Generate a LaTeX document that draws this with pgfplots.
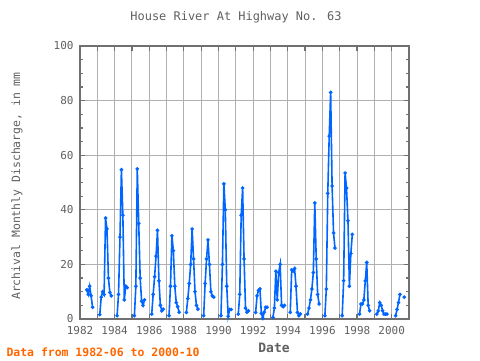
\documentclass[border=0pt]{standalone}
\usepackage{pgfplots}
\pgfplotsset{compat=1.18}
\usepackage{pgfplotstable}
\usepackage{fontspec}
\setmainfont{DejaVu Sans Mono}
\definecolor{txt}{HTML}{606060}
\definecolor{frm}{HTML}{707070}
\definecolor{grd}{HTML}{B0B0B0}
\definecolor{ln}{HTML}{0066FF}
\definecolor{org}{HTML}{FF6600}

\pgfplotstableread{
yr mo v
1982 6 10.7
1982 7 9
1982 8 12
1982 9 8.5
1982 10 4.3
1982 12 nan
1983 3 1.6
1983 4 8
1983 5 10
1983 6 9
1983 7 37
1983 8 33
1983 9 15
1983 10 9.7
1983 11 8.5
1983 12 nan
1984 3 1.2
1984 4 9
1984 5 30
1984 6 54.7
1984 7 38
1984 8 7
1984 9 12
1984 10 11.5
1984 12 nan
1985 3 1.2
1985 4 12
1985 5 55
1985 6 35
1985 7 15
1985 8 6.5
1985 9 5
1985 10 7
1985 12 nan
1986 3 1.8
1986 4 9
1986 5 15.5
1986 6 23
1986 7 32.5
1986 8 14
1986 9 5
1986 10 3
1986 11 3.6
1986 12 nan
1987 3 1.2
1987 4 12
1987 5 30.5
1987 6 25
1987 7 12
1987 8 6
1987 9 4.5
1987 10 2.5
1987 12 nan
1988 3 2.4
1988 4 7.5
1988 5 13
1988 6 20
1988 7 33
1988 8 22
1988 9 10
1988 10 5
1988 11 3.6
1988 12 nan
1989 3 1.2
1989 4 13
1989 5 22
1989 6 29
1989 7 20
1989 8 10
1989 9 8.5
1989 10 8
1989 12 nan
1990 3 1.2
1990 4 20
1990 5 49.5
1990 6 40
1990 7 12
1990 8 1
1990 9 3.5
1990 10 3.5
1990 12 nan
1991 3 1.8
1991 4 9
1991 5 38
1991 6 48
1991 7 22
1991 8 4
1991 9 2.5
1991 10 3
1991 12 nan
1992 3 2.4
1992 4 8.5
1992 5 10.5
1992 6 11
1992 7 2
1992 8 0.3
1992 9 2.5
1992 10 4.3
1992 11 4.3
1992 12 nan
1993 3 0.6
1993 4 4
1993 5 17.5
1993 6 7
1993 7 17
1993 8 20
1993 9 5
1993 10 4.5
1993 11 5
1993 12 nan
1994 3 2.4
1994 4 18
1994 5 17.5
1994 6 18.5
1994 7 12
1994 8 2.4
1994 9 1.2
1994 10 1.8
1994 12 nan
1995 3 1.8
1995 4 4
1995 5 7
1995 6 11
1995 7 17
1995 8 42.5
1995 9 22
1995 10 9
1995 11 5.5
1995 12 nan
1996 3 1.2
1996 4 11
1996 5 46
1996 6 67
1996 7 83
1996 8 48.7
1996 9 31.5
1996 10 26
1996 12 nan
1997 3 1.2
1997 4 14
1997 5 53.5
1997 6 48
1997 7 36
1997 8 12
1997 9 24
1997 10 31
1997 12 nan
1998 3 1.8
1998 4 5.5
1998 5 5.5
1998 6 7
1998 7 14
1998 8 20.7
1998 9 5
1998 10 3
1998 12 nan
1999 3 1.8
1999 4 3
1999 5 6
1999 6 5
1999 7 3
1999 8 1.8
1999 9 1.8
1999 10 1.8
1999 12 nan
2000 4 1.2
2000 5 3.5
2000 6 6
2000 7 9
2000 8 nan
2000 10 8
}\datatable

\begin{document}
\begin{tikzpicture}[x=1bp,y=1bp]
\path[use as bounding box] (0,0) rectangle (480,360);
\begin{axis}[
  at={(80bp,41bp)}, anchor=south west,
  scale only axis, width=329bp, height=273bp,
  xmin=1982, xmax=2001, ymin=0, ymax=100,
  xtick={1982,...,2000},
  xticklabels={1982,,1984,,1986,,1988,,1990,,1992,,1994,,1996,,1998,,2000},
  ytick={0,20,...,100},
  minor x tick num=3, minor y tick num=3,
  tick align=inside,
  major tick length=5bp, minor tick length=3bp,
  grid=major,
  major grid style={grd, line width=0.9bp},
  axis line style={frm, line width=1.6bp},
  every tick/.style={frm, line width=1.2bp},
  ticklabel style={font=\fontsize{11}{13}\selectfont, text=txt},
  xticklabel style={yshift=-4bp},
  yticklabel style={xshift=-3bp},
  /pgf/number format/assume math mode=true,
  unbounded coords=jump,
  clip=false,
]
\addplot[ln, line width=1.6bp, mark=*, mark size=0.9bp, mark options={solid}]
  table[x expr=\thisrow{yr}+(\thisrow{mo}-1.3)/12, y=v] {\datatable};
\end{axis}
\node[text=txt, font=\fontsize{12}{14}\selectfont] at (236,343) {House River At Highway No. 63};
\node[text=txt, font=\fontsize{11.5}{13}\selectfont, rotate=90] at (17,174) {Archival Monthly Discharge, in mm};
\node[text=txt, font=\bfseries\fontsize{13}{15}\selectfont] at (274,12) {Date};
\node[text=org, font=\bfseries\fontsize{11.5}{13}\selectfont, anchor=west] at (3,8) {Data from 1982-06 to 2000-10};
\end{tikzpicture}
\end{document}
